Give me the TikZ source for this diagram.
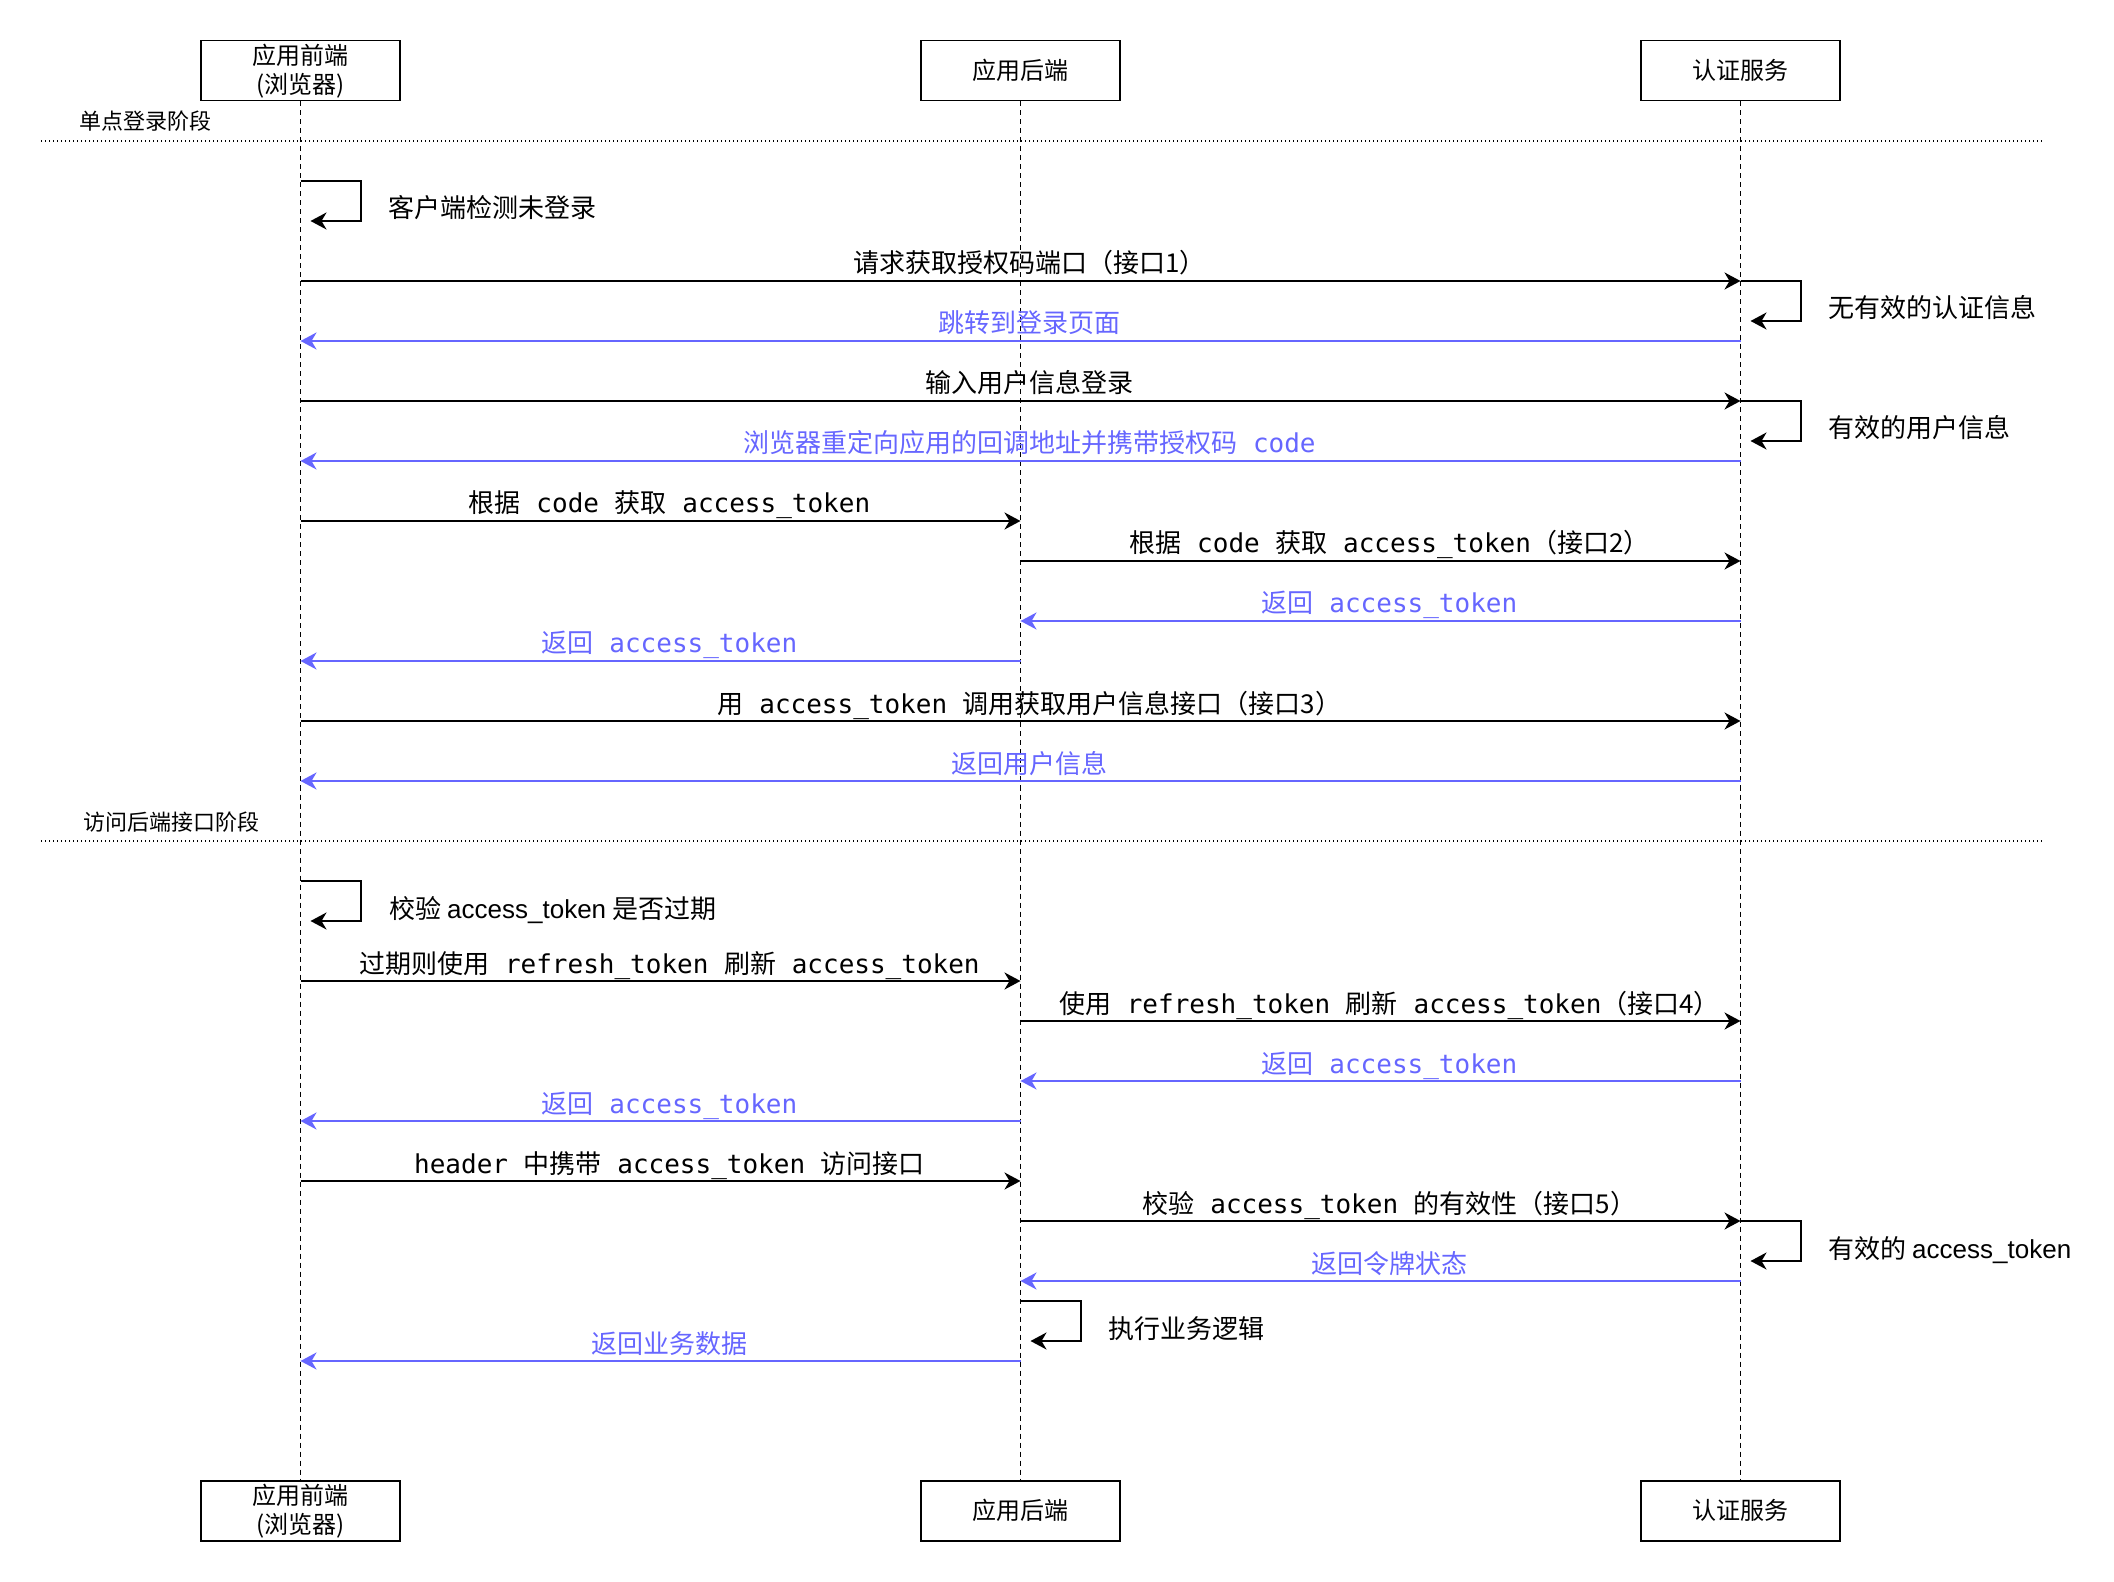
\documentclass[tikz,border=0pt]{standalone}
\usepackage{fontspec}
\setmainfont{Noto Sans CJK SC}
\setmonofont{DejaVu Sans Mono}
\newfontfamily\latinsans{Liberation Sans}
\usetikzlibrary{arrows.meta}
\definecolor{retblue}{HTML}{6666FF}

\tikzset{
  actor/.style={draw,line width=.8pt,minimum width=99.5pt,minimum height=30pt,
    inner sep=0pt,align=center,font=\fontsize{12}{14.5}\selectfont},
  lifeline/.style={line width=.75pt,dash pattern=on 2.5pt off 2pt},
  phasesep/.style={line width=.7pt,dash pattern=on .7pt off 1.3pt},
  msg/.style={line width=1pt,-{Stealth[length=8pt,width=8.5pt,inset=2.5pt]}},
  ret/.style={msg,color=retblue},
  lbl/.style={anchor=base,inner sep=0pt,xshift=4.5pt,yshift=4pt,font=\fontsize{13}{15}\selectfont},
  note/.style={anchor=base west,inner sep=0pt,font=\fontsize{13}{15}\selectfont},
  phase/.style={anchor=base west,inner sep=0pt,font=\fontsize{11}{13}\selectfont}
}

\begin{document}
\begin{tikzpicture}[x=.5pt,y=-.5pt]
\useasboundingbox (0,0) rectangle (2114,1582);

% participants
\node[actor] (fe) at (300.5,70.7) {应用前端\\(浏览器)};
\node[actor] (be) at (1020.5,70.7) {应用后端};
\node[actor] (auth) at (1740.5,70.7) {认证服务};
\node[actor] (feB) at (300.5,1510.7) {应用前端\\(浏览器)};
\node[actor] (beB) at (1020.5,1510.7) {应用后端};
\node[actor] (authB) at (1740.5,1510.7) {认证服务};

\draw[lifeline] (fe) -- (feB);
\draw[lifeline] (be) -- (beB);
\draw[lifeline] (auth) -- (authB);

% phase 1
\node[phase] (ph1) at (79,130) {单点登录阶段};
\draw[phasesep] (41,141) -- (2042,141);

\draw[msg] (fe.south |- 0,181) -- ++(60,0) -- ++(0,40) -- ++(-50,0);
\node[note] (n1) at (388,218) {客户端检测未登录};

\draw[msg] (fe.south |- 0,281) -- (auth.south |- 0,281)
  node[lbl,midway] (m1) {请求获取授权码端口（接口1）};
\draw[msg] (auth.south |- 0,281) -- ++(60,0) -- ++(0,40) -- ++(-50,0);
\node[note] (n2) at (1828,318) {无有效的认证信息};
\draw[ret] (auth.south |- 0,341) -- (fe.south |- 0,341)
  node[lbl,midway] (m2) {跳转到登录页面};

\draw[msg] (fe.south |- 0,401) -- (auth.south |- 0,401)
  node[lbl,midway] (m3) {输入用户信息登录};
\draw[msg] (auth.south |- 0,401) -- ++(60,0) -- ++(0,40) -- ++(-50,0);
\node[note] (n3) at (1828,438) {有效的用户信息};
\draw[ret] (auth.south |- 0,461) -- (fe.south |- 0,461)
  node[lbl,midway] (m4) {浏览器重定向应用的回调地址并携带授权码\texttt{ code}};

\draw[msg] (fe.south |- 0,521) -- (be.south |- 0,521)
  node[lbl,midway] (m5) {根据\texttt{ code }获取\texttt{ access\_token}};
\draw[msg] (be.south |- 0,561) -- (auth.south |- 0,561)
  node[lbl,midway] (m6) {根据\texttt{ code }获取\texttt{ access\_token}（接口2）};
\draw[ret] (auth.south |- 0,621) -- (be.south |- 0,621)
  node[lbl,midway] (m7) {返回\texttt{ access\_token}};
\draw[ret] (be.south |- 0,661) -- (fe.south |- 0,661)
  node[lbl,midway] (m8) {返回\texttt{ access\_token}};

\draw[msg] (fe.south |- 0,721) -- (auth.south |- 0,721)
  node[lbl,midway] (m9) {用\texttt{ access\_token }调用获取用户信息接口（接口3）};
\draw[ret] (auth.south |- 0,781) -- (fe.south |- 0,781)
  node[lbl,midway] (m10) {返回用户信息};

% phase 2
\node[phase] (ph2) at (83,830) {访问后端接口阶段};
\draw[phasesep] (41,841) -- (2042,841);

\draw[msg] (fe.south |- 0,881) -- ++(60,0) -- ++(0,40) -- ++(-50,0);
\node[note] (n4) at (389,918) {校验 {\latinsans access\_token} 是否过期};

\draw[msg] (fe.south |- 0,981) -- (be.south |- 0,981)
  node[lbl,midway] (m11) {过期则使用\texttt{ refresh\_token }刷新\texttt{ access\_token}};
\draw[msg] (be.south |- 0,1021) -- (auth.south |- 0,1021)
  node[lbl,midway] (m12) {使用\texttt{ refresh\_token }刷新\texttt{ access\_token}（接口4）};
\draw[ret] (auth.south |- 0,1081) -- (be.south |- 0,1081)
  node[lbl,midway] (m13) {返回\texttt{ access\_token}};
\draw[ret] (be.south |- 0,1121) -- (fe.south |- 0,1121)
  node[lbl,midway] (m14) {返回\texttt{ access\_token}};

\draw[msg] (fe.south |- 0,1181) -- (be.south |- 0,1181)
  node[lbl,midway] (m15) {\texttt{header }中携带\texttt{ access\_token }访问接口};
\draw[msg] (be.south |- 0,1221) -- (auth.south |- 0,1221)
  node[lbl,midway] (m16) {校验\texttt{ access\_token }的有效性（接口5）};
\draw[msg] (auth.south |- 0,1221) -- ++(60,0) -- ++(0,40) -- ++(-50,0);
\node[note] (n5) at (1828,1258) {有效的 {\latinsans access\_token}};
\draw[ret] (auth.south |- 0,1281) -- (be.south |- 0,1281)
  node[lbl,midway] (m17) {返回令牌状态};

\draw[msg] (be.south |- 0,1301) -- ++(60,0) -- ++(0,40) -- ++(-50,0);
\node[note] (n6) at (1108,1338) {执行业务逻辑};
\draw[ret] (be.south |- 0,1361) -- (fe.south |- 0,1361)
  node[lbl,midway] (m18) {返回业务数据};
\end{tikzpicture}
\end{document}
